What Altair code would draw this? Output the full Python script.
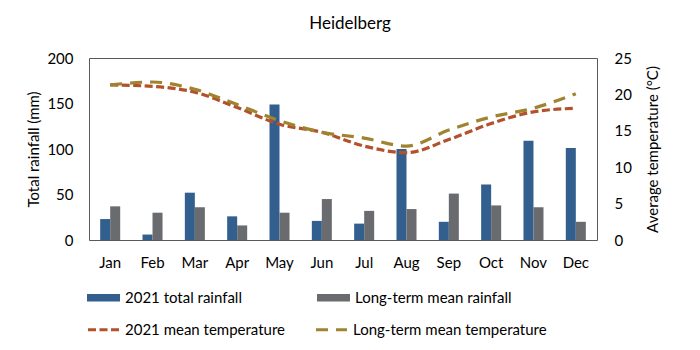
import altair as alt
import pandas as pd

months = ["Jan", "Feb", "Mar", "Apr", "May", "Jun", "Jul", "Aug", "Sep", "Oct", "Nov", "Dec"]
rain_2021 = [23, 6, 52, 26, 149, 21, 18, 100, 20, 61, 109, 101]
rain_lt = [37, 30, 36, 16, 30, 45, 32, 34, 51, 38, 36, 20]
temp_2021 = [21.3, 21.1, 20.3, 18.2, 15.9, 14.8, 12.9, 12.0, 13.8, 16.0, 17.6, 18.1]
temp_lt = [21.3, 21.7, 20.7, 18.6, 16.4, 14.8, 14.0, 12.9, 15.1, 16.9, 18.1, 20.1]
rain_series = ["2021 total rainfall", "Long-term mean rainfall"]
temp_series = ["2021 mean temperature", "Long-term mean temperature"]
rain_ticks = [0, 50, 100, 150, 200]
temp_ticks = [0, 5, 10, 15, 20, 25]

rain_df = pd.DataFrame({
    "month": months + months,
    "series": [rain_series[0]] * 12 + [rain_series[1]] * 12,
    "value": rain_2021 + rain_lt,
})
temp_df = pd.DataFrame({
    "month": months + months,
    "series": [temp_series[0]] * 12 + [temp_series[1]] * 12,
    "value": temp_2021 + temp_lt,
})

FONT = "Lato"
BLUE, GRAY = "#325F8E", "#6A6B6F"
RED, GOLD = "#B3512A", "#A08330"

x_enc = alt.X(
    "month:N", sort=months,
    scale=alt.Scale(paddingInner=0.527, paddingOuter=0.264),
    axis=alt.Axis(title=None, labelAngle=0, ticks=False, domain=False, labelPadding=15),
)

bars = alt.Chart(rain_df).mark_bar().encode(
    x=x_enc,
    xOffset=alt.XOffset("series:N", sort=rain_series,
                        scale=alt.Scale(domain=rain_series, paddingInner=0, paddingOuter=0)),
    y=alt.Y("value:Q", scale=alt.Scale(domain=[0, 200]),
            axis=alt.Axis(values=rain_ticks, title="Total rainfall (mm)", grid=False,
                          ticks=False, domain=False, labelPadding=16,
                          titleX=-56, titleY=91, titleAngle=270,
                          titleAlign="center", titleBaseline="middle")),
    color=alt.Color("series:N", sort=rain_series,
                    scale=alt.Scale(domain=rain_series, range=[BLUE, GRAY]),
                    legend=alt.Legend(title=None, orient="none", legendX=-3, legendY=222,
                                      direction="horizontal", columnPadding=74,
                                      symbolType="M-1,-0.22L1,-0.22L1,0.22L-1,0.22Z",
                                      symbolSize=1089, labelOffset=4,
                                      labelFontWeight="normal", labelLimit=400)),
)

line_legend = alt.Legend(title=None, orient="none", legendX=-3, legendY=254,
                         direction="horizontal", columnPadding=24,
                         symbolType="stroke", symbolSize=961, symbolStrokeWidth=3.2,
                         labelOffset=4, labelFontWeight="normal", labelLimit=400)

lines = alt.Chart(temp_df).mark_line(strokeWidth=3.2, interpolate="monotone").encode(
    x=x_enc,
    y=alt.Y("value:Q", scale=alt.Scale(domain=[0, 25]),
            axis=alt.Axis(orient="right", values=temp_ticks, title="Average temperature (°C)",
                          grid=False, ticks=False, domain=False, labelPadding=17,
                          titleX=55.5, titleY=91, titleAngle=270,
                          titleAlign="center", titleBaseline="middle")),
    color=alt.Color("series:N", sort=temp_series,
                    scale=alt.Scale(domain=temp_series, range=[RED, GOLD]),
                    legend=line_legend),
    strokeDash=alt.StrokeDash("series:N", sort=temp_series,
                              scale=alt.Scale(domain=temp_series, range=[[8, 3.5], [12, 8]]),
                              legend=line_legend),
)

chart = alt.layer(bars, lines).resolve_scale(
    y="independent", color="independent", strokeDash="independent"
).properties(
    width=508, height=182,
    title=alt.TitleParams("Heidelberg", fontSize=17, font=FONT, fontWeight="normal",
                          color="#000", offset=5, dx=7, baseline="alphabetic"),
    autosize=alt.AutoSizeParams(type="none"),
    padding={"left": 89, "top": 58, "right": 103, "bottom": 110},
).configure_view(
    stroke="#595959", strokeWidth=1
).configure_axis(
    labelFont=FONT, titleFont=FONT, labelColor="#000", titleColor="#000",
    labelFontSize=15, titleFontSize=15, titleFontWeight="normal",
).configure_legend(
    labelFont=FONT, labelFontSize=15, labelColor="#000", labelFontWeight="normal",
    labelLimit=400,
)

chart.save("out.html", embed_options={"renderer": "svg", "actions": False})
